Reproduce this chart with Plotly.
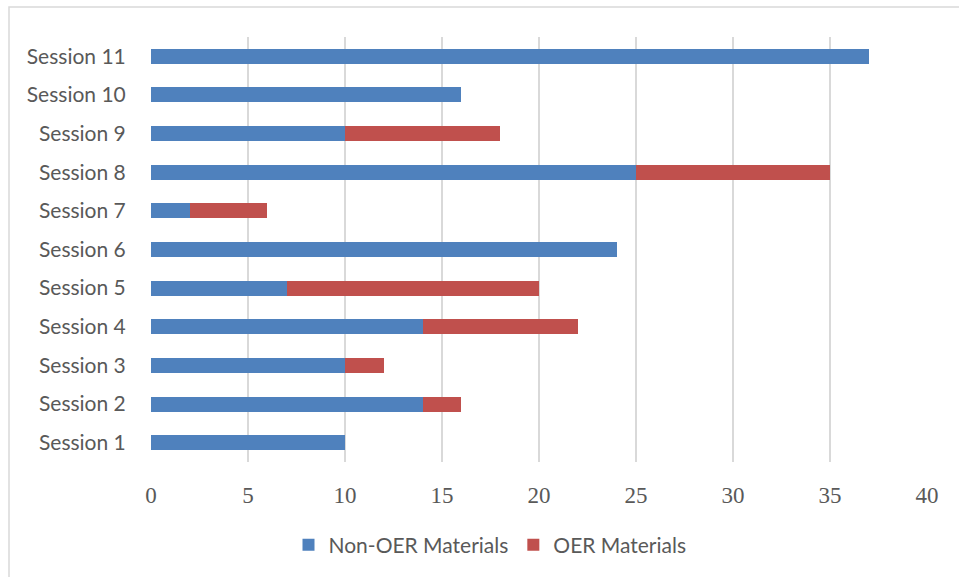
import plotly.graph_objects as go

sessions = ["Session 1", "Session 2", "Session 3", "Session 4", "Session 5", "Session 6",
            "Session 7", "Session 8", "Session 9", "Session 10", "Session 11"]
non_oer = [10, 14, 10, 14, 7, 24, 2, 25, 10, 16, 37]
oer = [0, 2, 2, 8, 13, 0, 4, 10, 8, 0, 0]
x_ticks = [0, 5, 10, 15, 20, 25, 30, 35, 40]

fig = go.Figure()
fig.add_trace(go.Bar(y=sessions, x=non_oer, orientation="h", name="Non-OER Materials",
                     marker=dict(color="#4F81BD", line=dict(width=0))))
fig.add_trace(go.Bar(y=sessions, x=oer, orientation="h", name="OER Materials",
                     marker=dict(color="#C0504D", line=dict(width=0))))

W, H = 959, 577
L, R, T, B = 151, 32, 37, 115
pw, ph = W - L - R, H - T - B

fig.update_layout(
    width=W, height=H, barmode="stack", bargap=0.61,
    margin=dict(l=L, r=R, t=T, b=B),
    paper_bgcolor="white", plot_bgcolor="white",
    showlegend=True,
    legend=dict(orientation="h", x=0.5 - 49 / pw, xanchor="center", y=-(545 - (H - B)) / ph,
                yanchor="middle",
                font=dict(family="Lato, Open Sans, sans-serif", size=21, color="#595959"),
                itemwidth=30, tracegroupgap=0, traceorder="normal"),
    xaxis=dict(range=[0, 40], tickvals=x_ticks, showgrid=True, gridcolor="#d9d9d9", gridwidth=1.5,
               zeroline=False, showline=False, ticks="outside", ticklen=12, tickcolor="rgba(0,0,0,0)",
               tickfont=dict(family="Liberation Serif, serif", size=23, color="#595959"), fixedrange=True),
    yaxis=dict(showgrid=False, zeroline=False, showline=False, ticks="outside", ticklen=20,
               tickcolor="rgba(0,0,0,0)",
               tickfont=dict(family="Lato, Open Sans, sans-serif", size=21, color="#595959"),
               range=[-0.5, 10.5]),
    shapes=[dict(type="rect", xref="paper", yref="paper",
                 x0=(9 - L) / pw, x1=1.2, y0=-0.5, y1=((H - B) - 7) / ph,
                 line=dict(color="#d9d9d9", width=1.5), fillcolor="rgba(0,0,0,0)", layer="below")],
)

fig.write_html("out.html")
